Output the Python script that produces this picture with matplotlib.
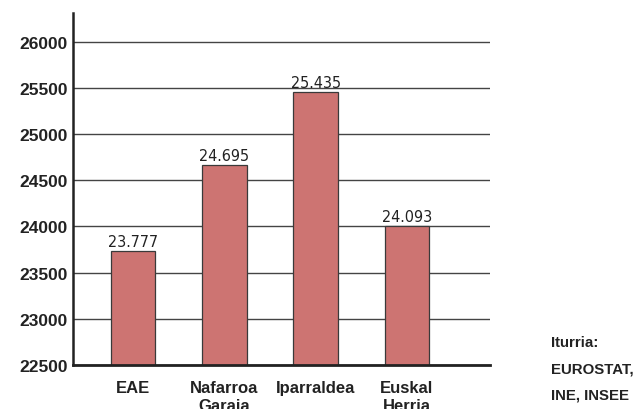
import matplotlib
matplotlib.use("Agg")
import matplotlib.pyplot as plt

categories = ["EAE", "Nafarroa\nGaraia", "Iparraldea", "Euskal\nHerria"]
bar_values = [23737, 24666, 25457, 24007]
value_labels = ["23.777", "24.695", "25.435", "24.093"]
y_ticks = [22500, 23000, 23500, 24000, 24500, 25000, 25500, 26000]
source_text = "Iturria:\nEUROSTAT,\nINE, INSEE"

fig = plt.figure(figsize=(6.39, 4.10), dpi=100)
ax = fig.add_axes([0.1142, 0.1073, 0.6526, 0.8586])

x = list(range(len(categories)))
bars = ax.bar(x, bar_values, width=0.49, bottom=0, color="#CD7472",
              edgecolor="#3a3a3a", linewidth=0.9, zorder=3)
ax.set_ylim(22500, 26310)
ax.set_xlim(-0.657, 3.91)
ax.set_yticks(y_ticks)
ax.set_yticklabels([str(v) for v in y_ticks], fontfamily="Liberation Sans",
                   fontweight="bold", fontsize=12.5, color="#222222")
ax.set_xticks(x)
ax.set_xticklabels(categories, fontfamily="Liberation Sans", fontweight="bold",
                   fontsize=12, color="#222222", linespacing=1.25)
ax.tick_params(axis="y", length=0, pad=4)
ax.tick_params(axis="x", length=0, pad=10.5)
ax.grid(axis="y", color="#444444", linewidth=1.0, zorder=0)
for s in ["top", "right"]:
    ax.spines[s].set_visible(False)
ax.spines["left"].set_linewidth(1.8)
ax.spines["bottom"].set_linewidth(2.0)
ax.spines["left"].set_color("#222222")
ax.spines["bottom"].set_color("#222222")
ax.spines["bottom"].set_zorder(4)

for b, lab in zip(bars, value_labels):
    ax.annotate(lab, (b.get_x() + b.get_width() / 2, b.get_height()),
                xytext=(0, 1.5), textcoords="offset points", ha="center", va="bottom",
                fontfamily="DejaVu Sans", fontstretch="condensed", fontsize=11.5,
                color="#222222")

fig.text(551 / 639, 1 - 336 / 410, source_text, ha="left", va="top",
         fontfamily="Liberation Sans", fontweight="bold", fontsize=10.8,
         color="#222222", linespacing=2.1)

fig.savefig("out.png", dpi=100)
